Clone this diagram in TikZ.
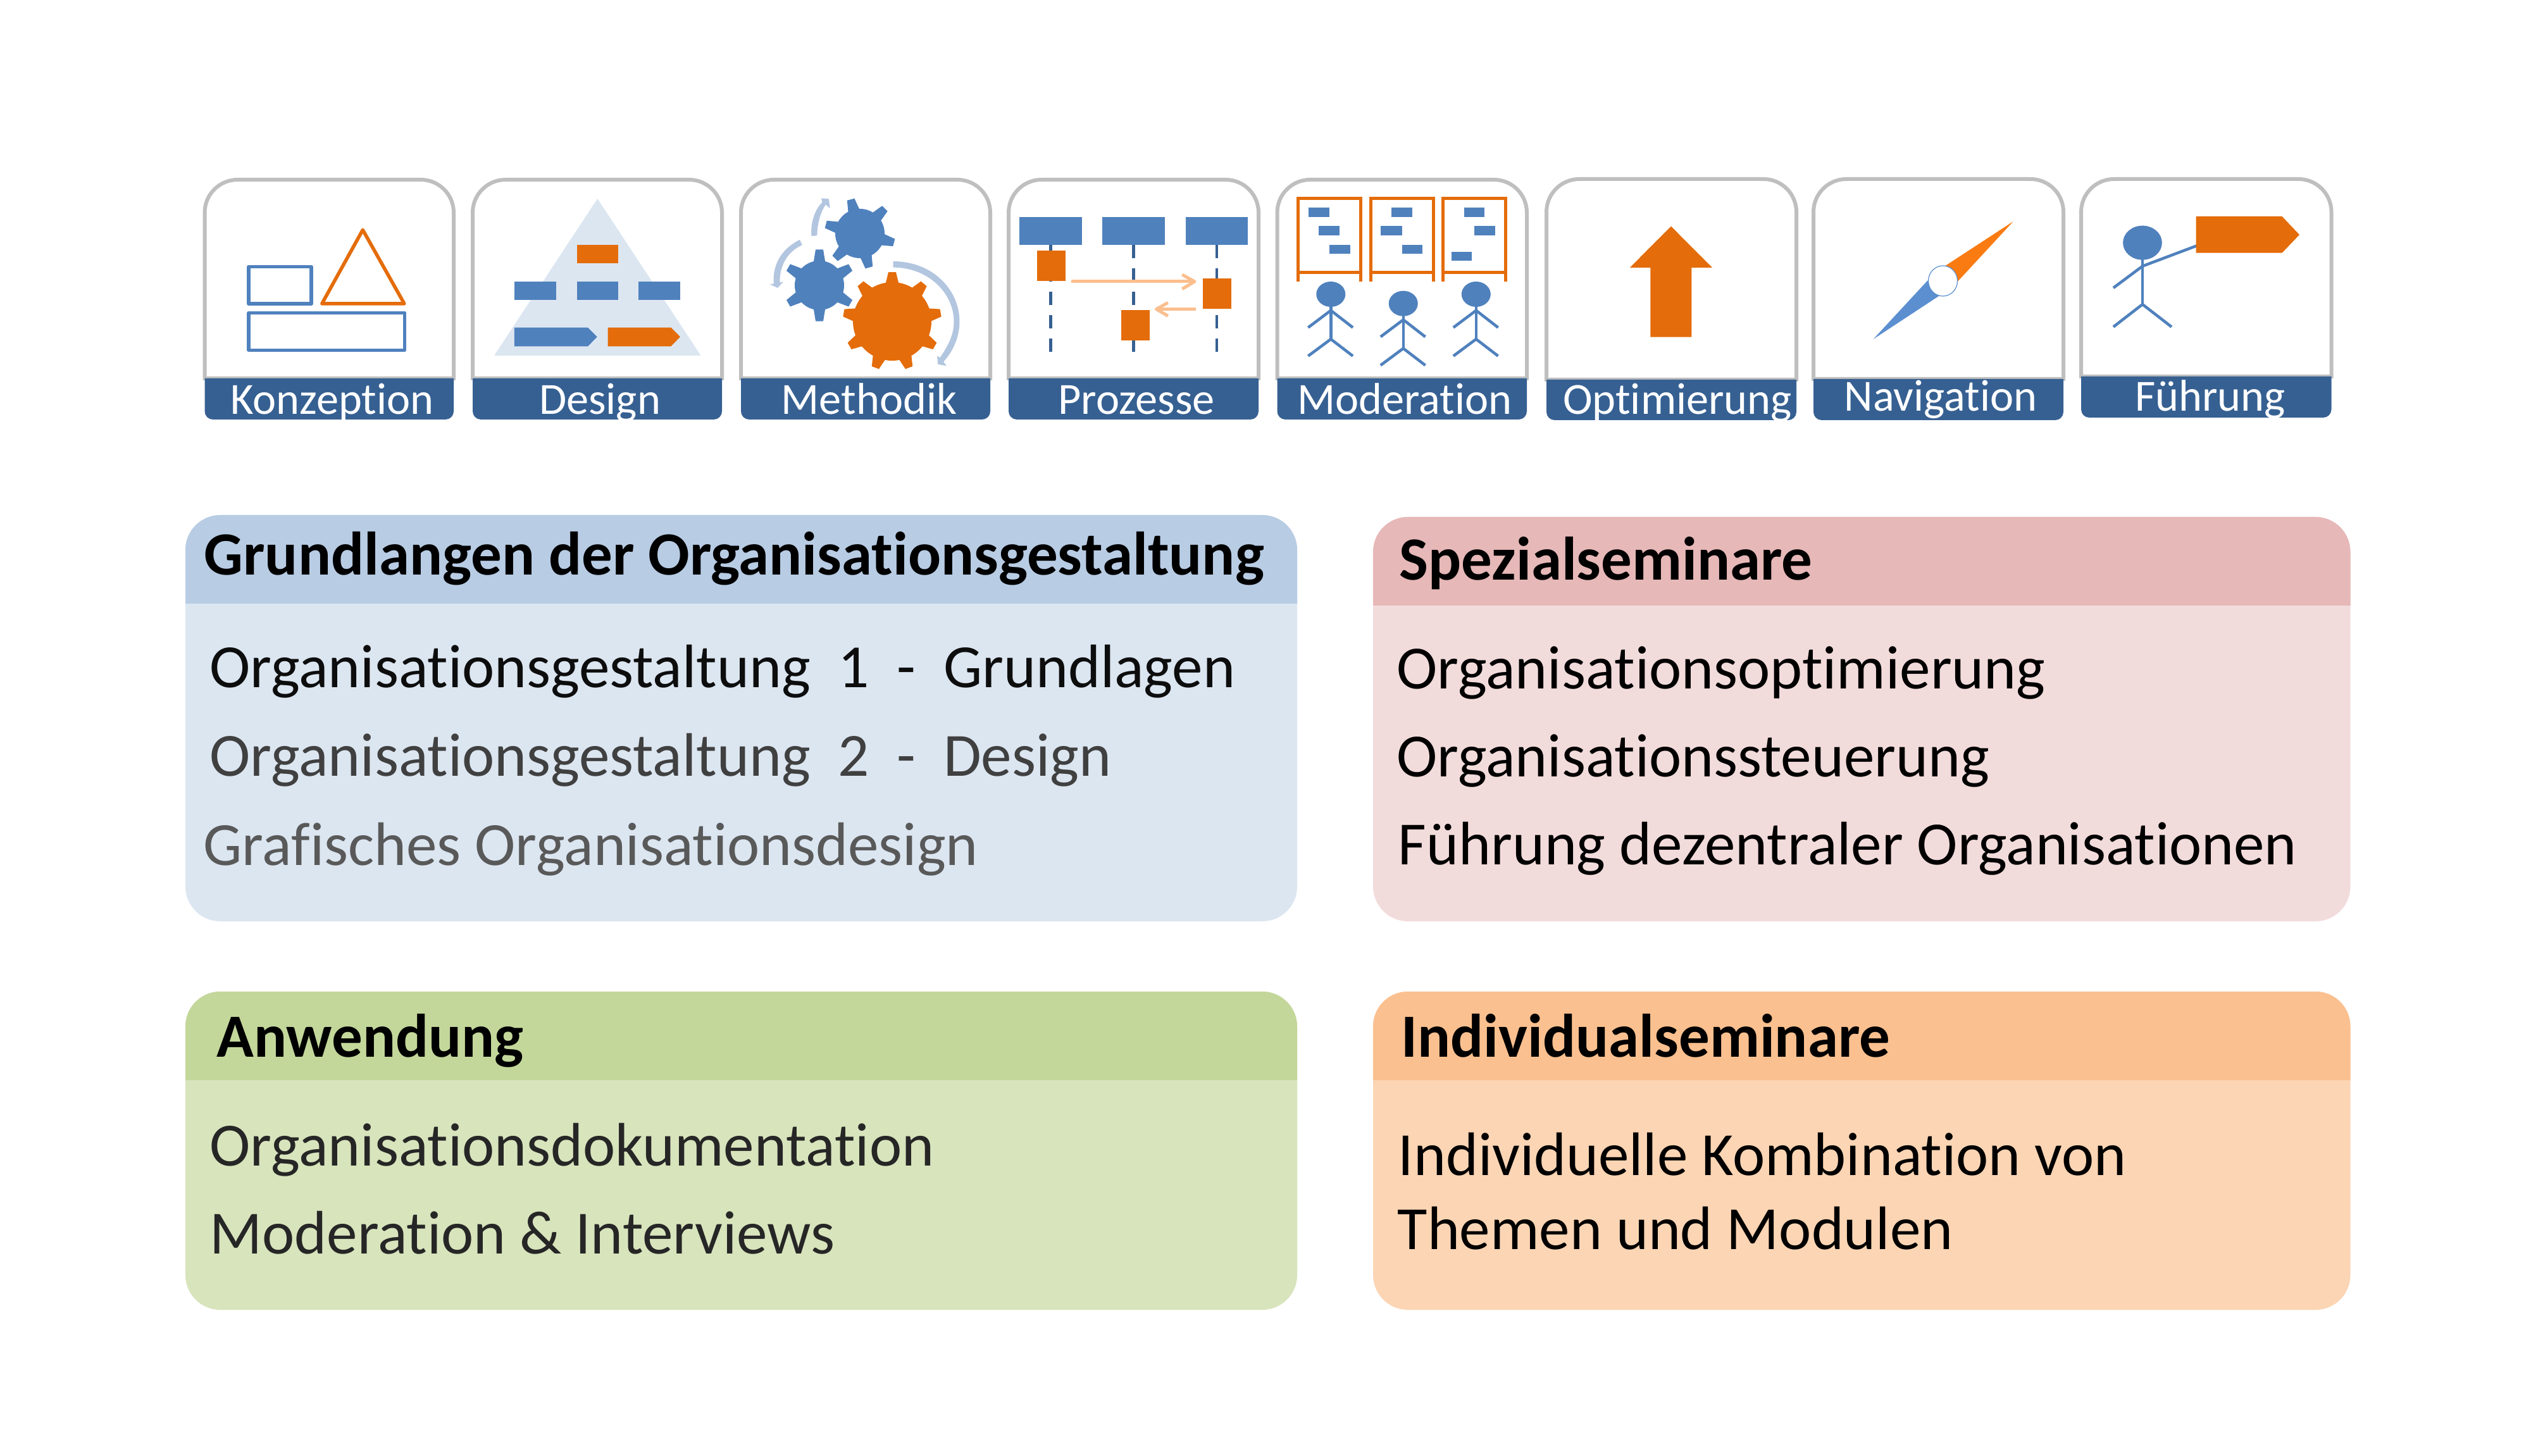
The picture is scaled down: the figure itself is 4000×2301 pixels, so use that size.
\documentclass[tikz,border=0pt]{standalone}
\usepackage{fontspec}
\setmainfont[Ligatures=NoCommon]{Carlito}
\definecolor{cblue}{HTML}{4F81BD}
\definecolor{corange}{HTML}{E46C0A}
\definecolor{cband}{HTML}{366092}
\definecolor{cgray}{HTML}{BFBFBF}
\definecolor{carrow}{HTML}{B3C6E0}
\definecolor{clight}{HTML}{FBBF8F}
\definecolor{cneedleb}{HTML}{5B8FD0}
\definecolor{cneedleo}{HTML}{F97B12}
\definecolor{hblue}{HTML}{B8CCE4}
\definecolor{bblue}{HTML}{DCE6F1}
\definecolor{hpink}{HTML}{E6B8B7}
\definecolor{bpink}{HTML}{F2DCDB}
\definecolor{hgreen}{HTML}{C4D79B}
\definecolor{bgreen}{HTML}{D8E4BC}
\definecolor{horange}{HTML}{FBC08F}
\definecolor{borange}{HTML}{FCD5B4}
\newcommand{\rrshape}[7]{\path[#1] (#2,{#5-#7}) -- (#2,{#3+#6}) .. controls (#2,{#3+0.448*#6}) and ({#2+0.448*#6},#3) .. ({#2+#6},#3) -- ({#4-#6},#3) .. controls ({#4-0.448*#6},#3) and (#4,{#3+0.448*#6}) .. (#4,{#3+#6}) -- (#4,{#5-#7}) .. controls (#4,{#5-0.448*#7}) and ({#4-0.448*#7},#5) .. ({#4-#7},#5) -- ({#2+#7},#5) .. controls ({#2+0.448*#7},#5) and (#2,{#5-0.448*#7}) .. (#2,{#5-#7}) -- cycle;}
% card: left top right bandtop bandbottom
\newcommand{\iconcard}[5]{\rrshape{draw=cgray,line width=0.06cm,fill=white}{#1}{#2}{#3}{#4}{52}{0}\rrshape{fill=cband}{#1}{#4}{#3}{#5}{0}{13}}
% panel: head colour, body colour, left top headbottom right bottom
\newcommand{\panelbox}[7]{\rrshape{fill=#2}{#3}{#4}{#6}{#7}{55}{55}\rrshape{fill=#1}{#3}{#4}{#6}{#5}{55}{0}}
% gear: colour cx cy root tip start n basehalf tiphalf
\newcommand{\gearshape}[9]{\fill[#1] (#2,#3) circle [radius=#4];
 \foreach \k in {1,...,#7}{\pgfmathsetmacro{\ang}{#6+\k*360/#7}\pgfmathsetmacro{\da}{#8/#4*57.3}\pgfmathsetmacro{\db}{#9/#5*57.3}
 \fill[#1] ({#2+(#4-2)*cos(\ang-\da)},{#3+(#4-2)*sin(\ang-\da)}) -- ({#2+#5*cos(\ang-\db)},{#3+#5*sin(\ang-\db)}) -- ({#2+#5*cos(\ang+\db)},{#3+#5*sin(\ang+\db)}) -- ({#2+(#4-2)*cos(\ang+\da)},{#3+(#4-2)*sin(\ang+\da)}) -- cycle;}}
\newcommand{\zrect}[5]{\fill[#1] (#2,#4) rectangle (#3,#5);}
\newcommand{\stickman}[2]{\begin{scope}[shift={(#1,#2)}]
 \fill[cblue] (184,615) ellipse [x radius=41,y radius=60];
 \draw[stick] (184,670) -- (184,828);
 \draw[stick] (120,773) -- (184,692) -- (246,773);
 \draw[stick] (120,908) -- (184,828) -- (246,908);\end{scope}}
\newcommand{\board}[1]{\begin{scope}[shift={(#1,0)}]
 \draw[boardline] (91,554) -- (91,160) -- (268,160) -- (268,554);
 \draw[boardline] (91,511) -- (268,511);\end{scope}}
\tikzset{
 stick/.style={draw=cblue,line width=0.045cm},
 boardline/.style={draw=corange,line width=0.05cm},
 outlineb/.style={draw=cblue,line width=0.055cm,line join=round},
 outlineo/.style={draw=corange,line width=0.055cm,line join=round},
 lifeline/.style={draw=cband,line width=0.045cm,dash pattern=on 0.21cm off 0.16cm},
 msg/.style={draw=clight,line width=0.05cm},
 bandtext/.style={anchor=base,inner sep=0pt,text=white,font=\fontsize{20}{24}\selectfont},
 headtext/.style={anchor=base west,inner sep=0pt,text=black,font=\fontsize{27.6}{32}\selectfont\bfseries},
 bodytext/.style={anchor=base west,inner sep=0pt,font=\fontsize{27.6}{32}\selectfont},
 zoomA/.style={shift={(#1,260)},xscale=0.5612,yscale=0.3333}
}
\begin{document}
\begin{tikzpicture}[x=0.01cm,y=-0.01cm]
\useasboundingbox (0,0) rectangle (4000,2301);
\fill[white] (0,0) rectangle (4000,2301);
% cards
\iconcard{323.5}{284}{717}{598}{663}
\iconcard{747}{284}{1141}{598}{663}
\iconcard{1171}{284}{1565}{598}{663}
\iconcard{1594}{284}{1989}{598}{663}
\iconcard{2018.5}{284}{2413}{598}{663}
\iconcard{2444}{283}{2839}{600}{664}
\iconcard{2866}{283}{3261}{599}{664}
\iconcard{3289}{283}{3684.5}{595}{660}
\node[bandtext] (lbl1) at (525,655) {Konzeption};
\node[bandtext] (lbl2) at (948,655) {Design};
\node[bandtext] (lbl3) at (1373.5,655) {Methodik};
\node[bandtext] (lbl4) at (1796,655) {Prozesse};
\node[bandtext] (lbl5) at (2220,655) {Moderation};
\node[bandtext] (lbl6) at (2651,655) {Optimierung};
\node[bandtext] (lbl7) at (3067,650) {Navigation};
\node[bandtext] (lbl8) at (3493,650) {Führung};
% icons 1 and 2
\begin{scope}[zoomA=300]
 \draw[outlineb] (166,485) rectangle (342,660);
 \draw[outlineb] (166,703) rectangle (605,880);
 \draw[outlineo] (487,310) -- (604,660) -- (372,660) -- cycle;
 \fill[bblue] (1148,162) -- (1439,906) -- (857,906) -- cycle;
 \zrect{corange}{1090}{1206}{380}{467}
 \zrect{cblue}{914}{1031}{554}{641}
 \zrect{cblue}{1090}{1206}{554}{641}
 \zrect{cblue}{1264}{1381}{554}{641}
 \fill[cblue] (914,773) -- (1121,773) -- (1147,817) -- (1121,862) -- (914,862) -- cycle;
 \fill[corange] (1177,773) -- (1355,773) -- (1381,817) -- (1355,862) -- (1177,862) -- cycle;
\end{scope}
% icon 3: gears
\gearshape{cblue}{1295}{451}{39}{57}{-90}{6}{10}{6}
\gearshape{cblue}{1359}{369}{39}{56}{15}{6}{10}{6}
\gearshape{corange}{1410}{508}{62}{78}{-90}{9}{11}{6}
\begin{scope}[zoomA=1150]
 \fill[carrow] (236,339) .. controls (233,275) and (245,215) .. (266,180) -- (264,160) -- (285,163) -- (288,208) -- (276,190) .. controls (262,225) and (252,280) .. (252,337) -- cycle;
 \fill[carrow] (203,357) .. controls (150,400) and (125,480) .. (130,565) -- (119,568) -- (141,585) -- (157,555) -- (147,560) .. controls (145,480) and (170,410) .. (210,382) -- cycle;
 \fill[carrow] (466,459) .. controls (580,459) and (655,600) .. (653,750) .. controls (652,820) and (635,885) .. (608,935) -- (616,955) -- (592,947) -- (590,908) -- (598,915) .. controls (625,850) and (637,800) .. (637,745) .. controls (637,610) and (565,488) .. (466,488) -- cycle;
 % icon 4
 \draw[lifeline] (910,380) -- (910,888);
 \draw[lifeline] (1143,380) -- (1143,888);
 \draw[lifeline] (1377,380) -- (1377,888);
 \zrect{cblue}{821}{997}{249}{380}
 \zrect{cblue}{1055}{1231}{249}{380}
 \zrect{cblue}{1290}{1465}{249}{380}
 \zrect{corange}{871}{951}{408}{552}
 \zrect{corange}{1338}{1418}{539}{684}
 \zrect{corange}{1108}{1188}{690}{834}
 \draw[msg] (968,555) -- (1315,555);
 \draw[msg,line join=round] (1280,522) -- (1315,555) -- (1280,590);
 \draw[msg] (1318,686) -- (1207,686);
 \draw[msg,line join=round] (1240,655) -- (1207,686) -- (1240,718);
\end{scope}
% icons 5 and 6
\begin{scope}[zoomA=2000]
 \board{0}\board{205}\board{409}
 \zrect{cblue}{121}{180}{205}{248}
 \zrect{cblue}{150}{208}{292}{335}
 \zrect{cblue}{180}{238}{380}{423}
 \zrect{cblue}{355}{413}{205}{248}
 \zrect{cblue}{325}{384}{292}{335}
 \zrect{cblue}{384}{442}{380}{423}
 \zrect{cblue}{559}{617}{205}{248}
 \zrect{cblue}{588}{647}{292}{335}
 \zrect{cblue}{523}{581}{414}{457}
 \stickman{0}{0}\stickman{204}{44}\stickman{409}{0}
 \fill[corange] (1142,293) -- (1258,489) -- (1200,489) -- (1200,818) -- (1084,818) -- (1084,489) -- (1026,489) -- cycle;
\end{scope}
% icons 7 and 8
\begin{scope}[zoomA=2850]
 \fill[cneedleo] (591,270) -- (400,480) -- (393,552) -- (436,552) -- cycle;
 \fill[cneedleb] (197,828) -- (350,550) -- (393,552) -- (383,622) -- cycle;
 \draw[fill=white,draw=cneedleb,line width=0.012cm] (393,552) ellipse [x radius=41,y radius=72];
 \fill[cblue] (955,371) ellipse [x radius=55,y radius=81];
 \draw[stick] (955,445) -- (955,663);
 \draw[stick] (873,585) -- (955,482) -- (1108,385);
 \draw[stick] (873,770) -- (955,663) -- (1037,770);
 \fill[corange] (1106,246) -- (1348,246) -- (1397,333) -- (1348,419) -- (1106,419) -- cycle;
\end{scope}
% panels
\panelbox{hblue}{bblue}{293}{814}{954}{2050}{1456}
\panelbox{hpink}{bpink}{2170}{817}{957}{3714.5}{1456}
\panelbox{hgreen}{bgreen}{293}{1567}{1707}{2050}{2070}
\panelbox{horange}{borange}{2170}{1567}{1707}{3714.5}{2070}
\node[headtext] (h1) at (322,909) {Grundlangen der Organisationsgestaltung};
\node[bodytext,text=black!95] (t11) at (331,1086) {Organisationsgestaltung\ \ 1\ \ -\ \ Grundlagen};
\node[bodytext,text=black!75] (t12) at (331,1226) {Organisationsgestaltung\ \ 2\ \ -\ \ Design};
\node[bodytext,text=black!65] (t13) at (321,1367) {Grafisches Organisationsdesign};
\node[headtext] (h2) at (2211,916) {Spezialseminare};
\node[bodytext,text=black] (t21) at (2207,1088) {Organisationsoptimierung};
\node[bodytext,text=black] (t22) at (2207,1227) {Organisationssteuerung};
\node[bodytext,text=black] (t23) at (2209,1366) {Führung dezentraler Organisationen};
\node[headtext] (h3) at (342,1670) {Anwendung};
\node[bodytext,text=black!85] (t31) at (331,1842) {Organisationsdokumentation};
\node[bodytext,text=black!85] (t32) at (331,1981) {Moderation \& Interviews};
\node[headtext] (h4) at (2214,1670) {Individualseminare};
\node[bodytext,text=black] (t41) at (2209,1857) {Individuelle Kombination von};
\node[bodytext,text=black] (t42) at (2208,1974) {Themen und Modulen};
\end{tikzpicture}
\end{document}
